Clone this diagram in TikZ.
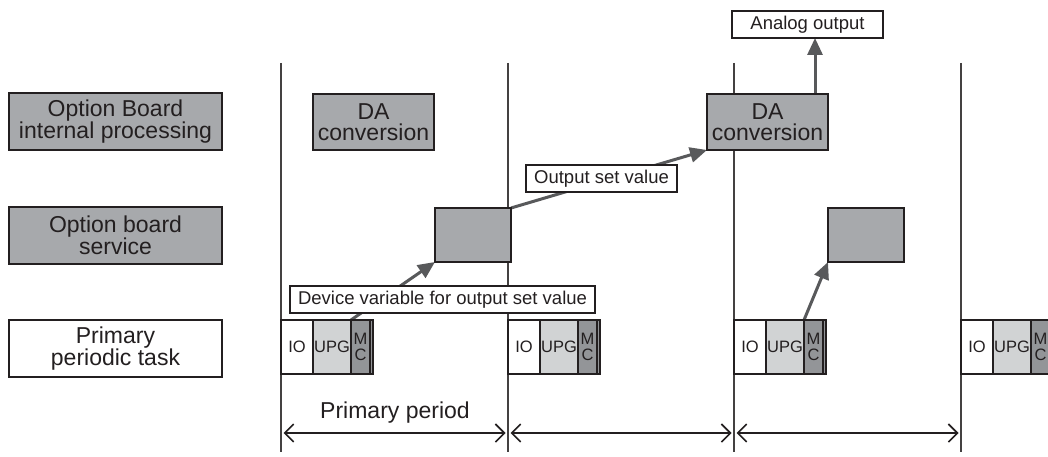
\documentclass[tikz,border=0pt]{standalone}
\usepackage{fontspec}
\setmainfont{Liberation Sans}
\usetikzlibrary{arrows.meta}
\pgfdeclarelayer{bottom}
\pgfdeclarelayer{background}
\pgfsetlayers{bottom,background,main}
\definecolor{boxgrey}{HTML}{A7A9AC}
\definecolor{lightgrey}{HTML}{D1D3D4}
\definecolor{darkgrey}{HTML}{939598}
\definecolor{arrowgrey}{HTML}{58595B}
\definecolor{ink}{HTML}{231F20}
\begin{document}
\begin{tikzpicture}[x=1pt,y=-1pt,
  every node/.style={inner sep=0pt, outer sep=0pt, text=ink},
  bigfont/.style={font=\fontsize{23}{21.5}\selectfont},
  smallfont/.style={font=\fontsize{18.5}{18}\selectfont},
  cellfont/.style={font=\fontsize{16.5}{15.5}\selectfont},
  rowlabel/.style={draw=ink, line width=1.2pt, anchor=north west, minimum width=213pt, minimum height=57pt, align=center, bigfont},
  greybox/.style={draw=ink, line width=1.2pt, fill=boxgrey, anchor=north west, align=center, bigfont},
  tag/.style={draw=ink, line width=1.1pt, fill=white, anchor=north west, minimum height=27pt, smallfont},
  cell/.style={draw=ink, line width=1.1pt, anchor=north west, minimum height=54pt, cellfont, align=center},
  timeline/.style={draw=ink!85, line width=1.1pt},
  garrow/.style={draw=arrowgrey, line width=3pt, -{Triangle[length=17pt,width=15pt]}},
  periodarrow/.style={draw=ink, line width=1.6pt, {Straight Barb[length=9pt,width=18pt]}-{Straight Barb[length=9pt,width=18pt]}}
]
\useasboundingbox (0,0) rectangle (1048,457);
\clip (0,0) rectangle (1048,457);
\begin{pgfonlayer}{bottom}
\fill[white] (0,0) rectangle (1048,457);
% time division lines
\foreach \x in {281,508,734,961} {
  \draw[timeline] (\x,63) -- (\x,452);
}
\end{pgfonlayer}

% row labels
\node[rowlabel, fill=boxgrey] (lab1) at (9,93) {Option Board\\internal processing};
\node[rowlabel, fill=boxgrey] (lab2) at (9,207) {Option board\\service};
\node[rowlabel, fill=white] (lab3) at (9,320) {Primary\\periodic task};

% tasks
\foreach \i/\X in {1/281,2/508,3/734,4/961} {
  \node[cell, fill=white, minimum width=32pt] (io\i) at (\X,320) {IO};
  \node[cell, fill=lightgrey, minimum width=38pt] (upg\i) at (\X+32,320) {UPG};
  \node[cell, fill=darkgrey, minimum width=19pt] (mc\i) at (\X+70,320) {M\\C};
  \node[cell, fill=darkgrey, minimum width=3pt] (mcs\i) at (\X+89,320) {};
}

% processing blocks
\node[greybox, minimum width=121pt, minimum height=56pt] (da1) at (313,94) {DA\\conversion};
\node[greybox, minimum width=121pt, minimum height=56pt] (da2) at (707,94) {DA\\conversion};
\node[greybox, minimum width=76pt, minimum height=54pt] (sq1) at (435,208) {};
\node[greybox, minimum width=76pt, minimum height=54pt] (sq2) at (828,208) {};

% tags
\node[tag, minimum width=151pt] (ao) at (732,11) {Analog output};
\node[tag, minimum width=305pt] (dv) at (290,286) {Device variable for output set value};
\node[tag, minimum width=151pt] (osv) at (526,165) {Output set value};

% data-flow arrows (behind boxes and tags)
\begin{pgfonlayer}{background}
\draw[garrow] (mc1.north west) -- (sq1.south west);
\draw[garrow] (sq1.north east) -- (da2.south west);
\draw[garrow] (mc3.north west) -- (sq2.south west);
\draw[garrow] ([xshift=-13pt]da2.north east) -- ([xshift=-13pt]da2.north east |- ao.south);
\end{pgfonlayer}

% period arrows
\coordinate (p1) at (281,433);
\coordinate (p2) at (508,433);
\coordinate (p3) at (734,433);
\coordinate (p4) at (961,433);
\draw[periodarrow] ([xshift=2.5pt]p1) -- ([xshift=-2.5pt]p2);
\draw[periodarrow] ([xshift=2.5pt]p2) -- ([xshift=-2.5pt]p3);
\draw[periodarrow] ([xshift=2.5pt]p3) -- ([xshift=-2.5pt]p4);
\node[bigfont, anchor=base] (pp) at (395,418) {Primary period};
\end{tikzpicture}
\end{document}
